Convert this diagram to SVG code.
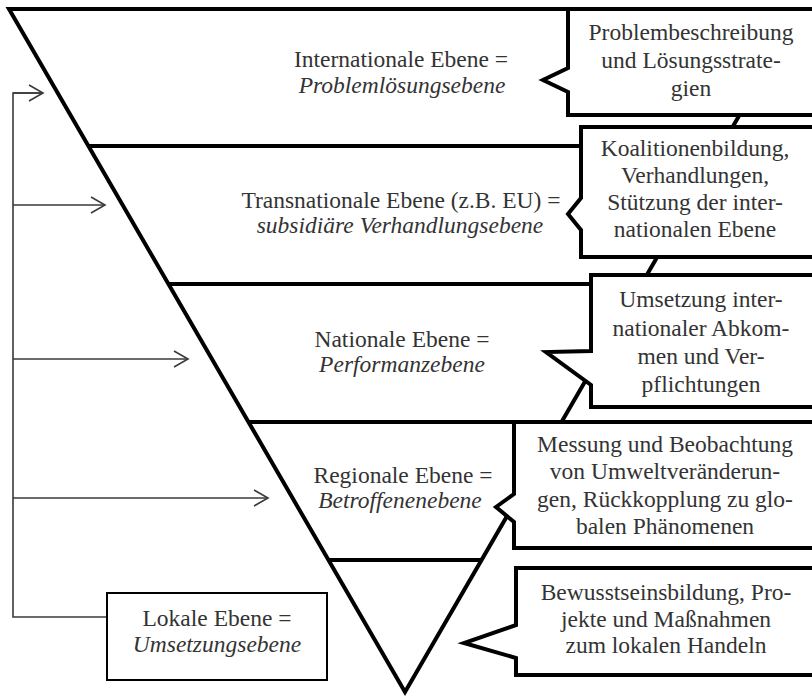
<svg xmlns="http://www.w3.org/2000/svg" width="812" height="698" viewBox="0 0 812 698">
<style>
.thick{fill:none;stroke:#000;stroke-width:4;stroke-linejoin:miter}
.call{fill:#fff;stroke:#000;stroke-width:4;stroke-linejoin:miter}
.fb{fill:none;stroke:#3a3a3a;stroke-width:1.6}
text{font-family:"Liberation Serif","Times New Roman",serif;font-size:23.5px;fill:#333;text-anchor:middle}
.it{font-style:italic}
</style>
<defs>
<marker id="arr" markerUnits="userSpaceOnUse" markerWidth="20" markerHeight="20" refX="0" refY="0" viewBox="-16 -10 18 20" orient="auto">
<path d="M-14,-8 L0,0 L-14,8" fill="none" stroke="#3a3a3a" stroke-width="1.6"/>
</marker>
</defs>
<rect width="812" height="698" fill="#fff"/>
<g id="pyramid">
<polygon class="thick" points="9,9 801,9 405,692"/>
<line class="thick" x1="88" y1="146" x2="723" y2="146"/>
<line class="thick" x1="169" y1="284" x2="642" y2="284"/>
<line class="thick" x1="249" y1="422" x2="562" y2="422"/>
<line class="thick" x1="329" y1="560" x2="482" y2="560"/>
</g>
<g id="connectors">
<path class="fb" d="M43,93 H13 V617 H107"/>
<line class="fb" x1="13" y1="93" x2="43" y2="93" marker-end="url(#arr)"/>
<line class="fb" x1="13" y1="205" x2="105" y2="205" marker-end="url(#arr)"/>
<line class="fb" x1="13" y1="359" x2="188" y2="359" marker-end="url(#arr)"/>
<line class="fb" x1="13" y1="498" x2="268" y2="498" marker-end="url(#arr)"/>
</g>
<g id="level-international">
<text x="401" y="67">Internationale Ebene =</text>
<text class="it" x="402" y="93">Problemlösungsebene</text>
</g>
<g id="level-transnational">
<text x="401" y="208">Transnationale Ebene (z.B. EU) =</text>
<text class="it" x="400" y="233">subsidiäre Verhandlungsebene</text>
</g>
<g id="level-national">
<text x="402" y="347">Nationale Ebene =</text>
<text class="it" x="402" y="372">Performanzebene</text>
</g>
<g id="level-regional">
<text x="403" y="483">Regionale Ebene =</text>
<text class="it" x="400" y="508">Betroffenenebene</text>
</g>
<g id="level-lokal">
<rect x="107" y="593" width="220" height="87" fill="#fff" stroke="#000" stroke-width="2"/>
<text x="217" y="626">Lokale Ebene =</text>
<text class="it" x="217" y="652">Umsetzungsebene</text>
</g>
<g id="callout-1">
<path class="call" d="M830,9 H568 V68 L543,80 L568,92 V115 H830 Z"/>
<text x="691" y="40">Problembeschreibung</text>
<text x="691" y="68">und Lösungsstrate-</text>
<text x="691" y="96">gien</text>
</g>
<g id="callout-2">
<path class="call" d="M830,127 H581 V198 L568,214 L581,230 V257 H830 Z"/>
<text x="695" y="156">Koalitionenbildung,</text>
<text x="695" y="183">Verhandlungen,</text>
<text x="695" y="210">Stützung der inter-</text>
<text x="695" y="237">nationalen Ebene</text>
</g>
<g id="callout-3">
<path class="call" d="M830,275 H591 V351 L546,352 L591,385 V407 H830 Z"/>
<text x="701" y="307">Umsetzung inter-</text>
<text x="701" y="336">nationaler Abkom-</text>
<text x="701" y="364">men und Ver-</text>
<text x="701" y="392">pflichtungen</text>
</g>
<g id="callout-4">
<path class="call" d="M830,422 H514 V494 L496,507 L514,522 V548 H830 Z"/>
<text x="665" y="452">Messung und Beobachtung</text>
<text x="665" y="479">von Umweltveränderun-</text>
<text x="665" y="507">gen, Rückkopplung zu glo-</text>
<text x="665" y="534">balen Phänomenen</text>
</g>
<g id="callout-5">
<path class="call" d="M830,568 H516 V625 L464,643 L516,658 V675 H830 Z"/>
<text x="666" y="600">Bewusstseinsbildung, Pro-</text>
<text x="666" y="627">jekte und Maßnahmen</text>
<text x="666" y="653">zum lokalen Handeln</text>
</g>
</svg>
